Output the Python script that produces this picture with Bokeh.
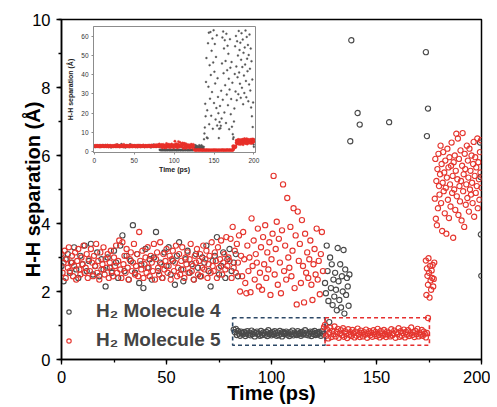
import numpy as np
from bokeh.plotting import figure
from bokeh.layouts import column
from bokeh.models import Range1d, SingleIntervalTicker, Legend, LegendItem, BoxAnnotation
from bokeh.embed import file_html
from bokeh.resources import INLINE

# ---------------- data (H-H separation in Angstrom vs time in ps) ----------------
# H2 Molecule 4
m4_free_start, m4_free_step = 0.0, 1.0
m4_free = [2.75, 2.30, 2.95, 3.10, 2.55, 2.85, 3.30, 2.65, 2.40, 3.05,
           2.80, 3.35, 2.60, 2.90, 3.40, 2.50, 2.75, 3.15, 2.45, 2.95,
           2.65, 2.15, 3.00, 2.70, 2.55, 3.20, 2.85, 2.40, 3.35, 3.65,
           2.60, 3.05, 2.35, 2.90, 3.95, 2.55, 3.10, 2.25, 2.80, 2.10,
           3.25, 2.70, 2.95, 2.35, 3.00, 3.75, 2.60, 2.85, 2.40, 3.15,
           2.75, 3.30, 2.50, 2.90, 2.20, 3.05, 3.45, 2.65, 2.30, 2.95,
           3.20, 2.55, 2.80, 2.35, 3.10, 2.70, 2.45, 3.00, 2.85, 3.35,
           2.60, 2.15, 2.90, 3.05, 3.60, 2.50, 2.75, 3.15, 2.40, 2.95,
           3.25, 2.60, 2.85, 3.10, 2.45]
m4_bound_start, m4_bound_step = 82.0, 0.5
m4_bound = [0.88, 0.80, 0.90, 0.72, 0.84, 0.76, 0.70, 0.82, 0.78, 0.74,
            0.81, 0.69, 0.77, 0.83, 0.73, 0.79, 0.71, 0.85, 0.75, 0.80,
            0.68, 0.78, 0.82, 0.74, 0.76, 0.70, 0.84, 0.72, 0.79, 0.77,
            0.73, 0.81, 0.69, 0.86, 0.75, 0.78, 0.71, 0.80, 0.74, 0.83,
            0.77, 0.70, 0.79, 0.72, 0.84, 0.76, 0.68, 0.81, 0.75, 0.78,
            0.82, 0.73, 0.77, 0.69, 0.80, 0.74, 0.85, 0.71, 0.79, 0.76,
            0.72, 0.83, 0.75, 0.78, 0.70, 0.81, 0.74, 0.77, 0.86, 0.73,
            0.79, 0.71, 0.76, 0.82, 0.69, 0.80, 0.75, 0.84, 0.72, 0.78,
            0.74, 0.81, 0.77, 0.70, 0.83, 0.76]
m4_leave_start, m4_leave_step = 125.5, 0.4
m4_leave = [2.25, 1.95, 3.35, 2.60, 1.72, 1.10, 3.00, 2.10, 2.80, 1.60,
            2.35, 1.85, 2.55, 2.05, 1.45, 3.28, 2.30, 1.75, 2.80, 1.53,
            2.45, 2.00, 3.22, 1.35, 2.65, 1.90, 2.40, 2.15, 1.58, 2.50]
m4_far_start, m4_far_step = 137.5, 0.5
m4_far = [6.42, 9.39, 12.5, 24.8, 18.3, 36.2, 48.6, 7.25, 21.4, 6.91,
          56.3, 33.7, 61.8, 14.2, 44.9, 27.5, 62.1, 39.8, 18.6, 52.4,
          30.9, 58.7, 11.8, 46.3, 63.0, 25.2, 41.5, 55.9, 35.4, 16.7,
          49.2, 22.6, 60.4, 13.5, 38.1, 28.4, 19.9, 6.98, 11.8, 15.3,
          23.7, 12.1, 13.4, 31.6, 17.2, 45.8, 59.3, 26.9, 62.4, 40.7,
          53.6, 20.3, 57.9, 34.5, 47.1, 14.8, 61.2, 29.6, 42.3, 55.0,
          24.1, 50.8, 37.9, 11.6, 32.2, 58.4, 43.6, 19.4, 27.3, 46.5,
          12.9, 35.8, 9.04, 6.57, 7.38, 15.6, 22.4, 40.3, 54.7, 31.2,
          60.1, 44.2, 26.7, 57.3, 38.6, 49.9, 29.8, 62.7, 41.1, 52.8,
          35.3, 56.6, 27.9, 47.7, 61.5, 33.1, 43.9, 58.2, 24.6, 51.3,
          39.5, 30.4, 54.1, 45.2, 62.9, 36.7, 28.2, 59.6, 48.3, 41.8,
          55.4, 26.1, 50.2, 34.9, 60.8, 43.0, 31.7, 53.5, 22.9, 46.9,
          18.3, 37.4, 12.7, 25.5]
m4_end_time = [199.3, 199.5, 199.7, 199.9]
m4_end = [6.38, 5.37, 3.68, 2.46]

# H2 Molecule 5
m5_free_start, m5_free_step = 0.0, 0.5
m5_free = [3.10, 2.55, 2.85, 3.20, 2.40, 2.95, 2.70, 3.30, 2.60, 2.85,
           3.05, 2.45, 2.75, 3.15, 2.35, 2.90, 3.25, 2.65, 2.50, 3.00,
           2.80, 3.35, 2.55, 2.70, 3.10, 2.40, 2.95, 2.60, 3.25, 2.85,
           2.45, 3.05, 2.75, 3.40, 2.55, 2.90, 2.35, 3.15, 2.65, 2.80,
           3.30, 2.50, 2.95, 2.70, 3.10, 2.40, 2.85, 3.20, 2.60, 2.45,
           3.00, 2.75, 3.35, 2.55, 2.90, 3.50, 2.65, 2.40, 3.45, 2.80,
           3.05, 2.55, 3.25, 2.70, 2.35, 2.95, 3.15, 2.60, 2.85, 3.40,
           2.50, 2.75, 3.10, 2.45, 3.75, 2.90, 2.65, 3.20, 2.40, 2.80,
           3.00, 2.55, 3.30, 2.70, 2.45, 3.05, 2.85, 2.60, 3.40, 2.35,
           2.95, 3.15, 2.70, 2.50, 3.45, 2.80, 2.40, 3.10, 2.65, 2.90,
           3.25, 2.55, 2.75, 3.05, 2.35, 2.95, 3.20, 2.60, 2.85, 3.35,
           2.45, 2.70, 3.10, 2.50, 2.90, 3.30, 2.65, 2.40, 3.00, 2.80,
           3.15, 2.55, 2.95, 3.40, 2.60, 2.75, 2.35, 3.05, 2.85, 3.25,
           2.50, 2.90, 3.10, 2.45, 2.70, 3.35, 2.65, 2.95, 3.20, 2.40,
           2.80, 3.05, 2.55, 3.45, 2.75, 2.60, 3.15, 2.90, 2.40, 3.30,
           2.70, 2.95, 3.50, 2.50, 2.85, 3.10, 2.65, 3.60, 2.75, 3.00]
m5_loose_start, m5_loose_step = 80.0, 0.5
m5_loose = [2.90, 3.55, 2.40, 3.90, 2.70, 3.20, 2.55, 3.40, 2.85, 3.65,
            2.00, 3.05, 2.45, 3.75, 2.95, 2.25, 1.95, 3.35, 2.60, 3.00,
            1.98, 4.15, 2.75, 3.50, 2.35, 3.10, 2.85, 3.85, 2.15, 2.55,
            3.30, 2.05, 3.60, 2.80, 3.95, 2.40, 3.15, 2.65, 3.45, 1.90,
            2.95, 3.70, 5.40, 2.50, 3.25, 4.05, 2.20, 3.55, 2.85, 1.95,
            3.80, 5.15, 2.60, 3.35, 2.35, 4.75, 3.00, 2.70, 3.90, 2.45,
            3.20, 4.45, 2.10, 3.65, 1.62, 4.35, 2.90, 3.40, 2.25, 4.10,
            2.75, 1.68, 3.70, 2.55, 3.15, 2.40, 2.95, 3.50, 2.20, 1.75,
            2.80, 3.25, 2.50, 3.85, 2.35, 2.90, 1.92, 3.10, 3.75, 2.60]
m5_bound_start, m5_bound_step = 125.0, 0.5
m5_bound = [0.95, 1.02, 0.70, 0.88, 0.62, 0.79, 0.93, 0.66, 0.84, 0.74,
            0.97, 0.68, 0.81, 0.90, 0.64, 0.76, 0.86, 0.71, 0.92, 0.67,
            0.83, 0.75, 0.63, 0.89, 0.72, 0.80, 0.69, 0.87, 0.77, 0.65,
            0.82, 0.70, 0.91, 0.74, 0.66, 0.85, 0.78, 0.68, 0.80, 0.73,
            0.88, 0.64, 0.76, 0.83, 0.71, 0.79, 0.67, 0.86, 0.74, 0.81,
            0.69, 0.90, 0.72, 0.65, 0.84, 0.77, 0.70, 0.87, 0.75, 0.66,
            0.82, 0.73, 0.79, 0.68, 0.89, 0.71, 0.76, 0.85, 0.64, 0.80,
            0.74, 0.92, 0.67, 0.83, 0.70, 0.78, 0.88, 0.65, 0.81, 0.73,
            0.86, 0.69, 0.77, 0.94, 0.72, 0.80, 0.66, 0.84, 0.75, 0.90,
            0.68, 0.79, 0.73, 0.87, 0.70, 0.82, 0.76, 0.65, 0.78, 1.22]
m5_release_start, m5_release_step = 173.5, 0.25
m5_release = [2.91, 1.90, 2.68, 2.46, 2.20, 2.98, 2.55, 1.82, 2.75, 2.32,
              2.05, 2.62, 2.40, 2.78, 2.15, 2.37, 2.85]
m5_after_start, m5_after_step = 177.75, 0.25
m5_after = [4.73, 5.90, 4.14, 5.25, 3.95, 5.60, 4.45, 6.05, 5.10, 4.85,
            5.45, 6.29, 4.60, 5.75, 3.78, 5.20, 6.10, 4.95, 5.50, 4.30,
            5.85, 5.05, 3.70, 5.35, 6.20, 4.70, 5.65, 4.16, 5.95, 5.15,
            4.50, 5.70, 6.38, 4.90, 5.40, 3.58, 5.80, 5.00, 6.00, 4.40,
            5.55, 6.64, 4.80, 5.30, 6.50, 4.25, 5.90, 5.10, 4.65, 6.15,
            5.25, 4.09, 5.70, 6.66, 4.95, 5.45, 3.90, 6.05, 5.60, 4.55,
            5.15, 6.29, 4.75, 5.85, 5.35, 4.35, 6.20, 5.00, 5.55, 4.85,
            6.00, 5.20, 4.60, 5.75, 6.40, 4.20, 5.40, 5.95, 4.90, 5.65,
            5.10, 6.50, 4.45, 5.80, 5.30, 4.70, 6.10, 5.50, 6.45, 5.05]

# highlighted windows (time, separation)
box4_time = [81.5, 125.5]
box5_time = [125.5, 175.2]
box_sep = [0.42, 1.23]

legend_labels = ["H\u2082 Molecule 4", "H\u2082 Molecule 5"]


def seg(start, step, vals):
    return start + step * np.arange(len(vals)), np.asarray(vals, dtype=float)


t4_parts = [seg(m4_free_start, m4_free_step, m4_free),
            seg(m4_bound_start, m4_bound_step, m4_bound),
            seg(m4_leave_start, m4_leave_step, m4_leave),
            seg(m4_far_start, m4_far_step, m4_far),
            (np.asarray(m4_end_time), np.asarray(m4_end))]
t5_parts = [seg(m5_free_start, m5_free_step, m5_free),
            seg(m5_loose_start, m5_loose_step, m5_loose),
            seg(m5_bound_start, m5_bound_step, m5_bound),
            seg(m5_release_start, m5_release_step, m5_release),
            seg(m5_after_start, m5_after_step, m5_after)]
t4 = np.concatenate([a for a, b in t4_parts]); y4 = np.concatenate([b for a, b in t4_parts])
t5 = np.concatenate([a for a, b in t5_parts]); y5 = np.concatenate([b for a, b in t5_parts])

GRAY = "#4a4a4a"
RED = "#e5362f"
FONT = "Liberation Sans"
LEFT, RIGHT = 61, 9   # shared side borders (Bokeh aligns them within the column)

# ---------------- main figure ----------------
p = figure(width=490, height=407, x_range=Range1d(0, 200), y_range=Range1d(0, 10),
           output_backend="svg", toolbar_location=None,
           min_border_left=LEFT, min_border_right=RIGHT, min_border_top=19, min_border_bottom=48)
p.grid.visible = False
p.outline_line_color = "black"
p.outline_line_width = 1.5

r4 = p.scatter(t4, y4, marker="circle", size=5.2, fill_color=None, line_color=GRAY, line_width=1.15)
r5 = p.scatter(t5, y5, marker="circle", size=5.2, fill_color=None, line_color=RED, line_width=1.15)

p.add_layout(BoxAnnotation(left=box4_time[0], right=box4_time[1], bottom=box_sep[0], top=box_sep[1],
                           fill_alpha=0, line_color="#2c4866", line_alpha=1.0, line_width=1.6,
                           line_dash="4 3"))
p.add_layout(BoxAnnotation(left=box5_time[0], right=box5_time[1], bottom=box_sep[0], top=box_sep[1],
                           fill_alpha=0, line_color="#e62e2e", line_alpha=1.0, line_width=1.6,
                           line_dash="4 3"))

p.xaxis.ticker = SingleIntervalTicker(interval=50, num_minor_ticks=2)
p.yaxis.ticker = SingleIntervalTicker(interval=2, num_minor_ticks=2)
p.xaxis.axis_label = "Time (ps)"
p.yaxis.axis_label = "H-H separation (\u00c5)"
for ax in (p.xaxis, p.yaxis):
    ax.axis_line_width = 1.5
    ax.major_tick_line_width = 1.3
    ax.minor_tick_line_width = 1.3
    ax.major_tick_out = 5
    ax.major_tick_in = 0
    ax.minor_tick_out = 3
    ax.minor_tick_in = 0
    ax.major_label_text_font = FONT
    ax.major_label_text_font_size = "16.5px"
    ax.major_label_text_color = "black"
    ax.axis_label_text_font = FONT
    ax.axis_label_text_font_size = "20px"
    ax.axis_label_text_font_style = "bold"
    ax.axis_label_text_color = "black"
p.xaxis.major_label_standoff = 6
p.xaxis.axis_label_standoff = -4
p.yaxis.major_label_standoff = 6
p.yaxis.axis_label_standoff = -15

legend = Legend(items=[LegendItem(label=legend_labels[0], renderers=[r4]),
                       LegendItem(label=legend_labels[1], renderers=[r5])],
                location=(2, 8), margin=0, padding=0, spacing=7,
                glyph_width=11, glyph_height=11, label_height=22, label_standoff=22,
                label_text_font=FONT, label_text_font_size="19px", label_text_font_style="bold",
                border_line_alpha=0, background_fill_alpha=0)
p.add_layout(legend)

# ---------------- inset figure ----------------
inset = figure(width=LEFT + 162 + RIGHT, height=152, x_range=Range1d(-1, 202), y_range=Range1d(-0.5, 65),
               output_backend="svg", toolbar_location=None,
               min_border_left=LEFT, min_border_right=RIGHT, min_border_top=3, min_border_bottom=18,
               styles={"position": "absolute", "left": "32px", "top": "23px", "z-index": "2"})
inset.grid.visible = False
inset.border_fill_alpha = 0
inset.background_fill_color = "white"
inset.outline_line_color = "#8c8c8c"
inset.outline_line_width = 1
inset.scatter(t4, y4, marker="circle", size=2, fill_color="#555555", line_color="#555555", line_width=0.3)
inset.scatter(t5, y5, marker="circle", size=2.4, fill_color="#e8302a", line_color="#e8302a", line_width=0.3)
inset.xaxis.ticker = SingleIntervalTicker(interval=50, num_minor_ticks=0)
inset.yaxis.ticker = SingleIntervalTicker(interval=10, num_minor_ticks=0)
inset.xaxis.axis_label = "Time (ps)"
inset.yaxis.axis_label = "H-H separation (\u00c5)"
for ax in (inset.xaxis, inset.yaxis):
    ax.axis_line_color = "#8c8c8c"
    ax.major_tick_line_color = "#8c8c8c"
    ax.major_tick_out = 2
    ax.major_tick_in = 0
    ax.minor_tick_line_color = None
    ax.major_label_text_font = FONT
    ax.major_label_text_font_size = "6.5px"
    ax.major_label_text_color = "#333333"
    ax.major_label_standoff = 3
    ax.axis_label_text_font = FONT
    ax.axis_label_text_font_size = "7px"
    ax.axis_label_text_font_style = "bold"
    ax.axis_label_text_color = "#222222"
inset.xaxis.axis_label_standoff = 0
inset.yaxis.axis_label_standoff = 4

layout = column(p, inset, styles={"position": "relative"})
open("out.html", "w").write(file_html(layout, INLINE))
